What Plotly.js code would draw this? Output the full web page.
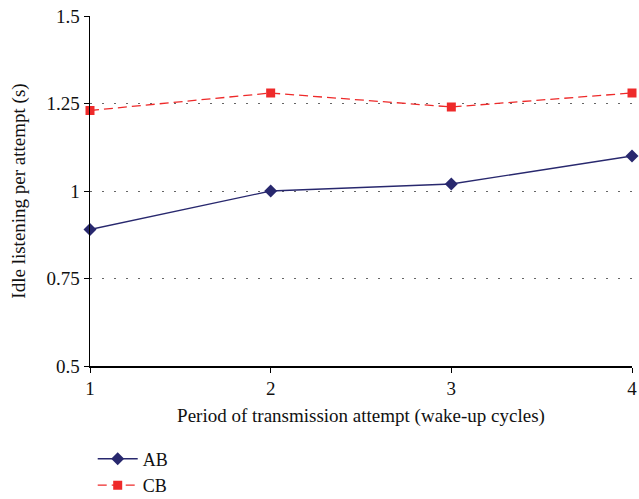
<!DOCTYPE html>
<html>
<head>
<meta charset="utf-8">
<script src="https://cdn.plot.ly/plotly-3.0.1.min.js"></script>
<style>html,body{margin:0;padding:0;background:#fff;}</style>
</head>
<body>
<div id="chart" style="width:639px;height:499px;"></div>
<script>
const periods = [1, 2, 3, 4];
const abValues = [0.89, 1.00, 1.02, 1.10];
const cbValues = [1.23, 1.28, 1.24, 1.28];
const yTicks = [0.5, 0.75, 1, 1.25, 1.5];
const yTickLabels = ['0.5', '0.75', '1', '1.25', '1.5'];

const fontFam = '"Liberation Serif", "DejaVu Serif", serif';

const traces = [
  {
    x: periods, y: abValues, name: 'AB', type: 'scatter', mode: 'lines+markers',
    line: {color: '#28286e', width: 1.3},
    marker: {symbol: 'diamond', size: 10, color: '#28286e'},
    cliponaxis: false
  },
  {
    x: periods, y: cbValues, name: 'CB', type: 'scatter', mode: 'lines+markers',
    line: {color: '#ee2a2a', width: 1.3, dash: '9px,5px'},
    marker: {symbol: 'square', size: 9, color: '#ee2a2a'},
    cliponaxis: false
  }
];

const layout = {
  width: 639, height: 499,
  margin: {l: 90, r: 7, t: 16, b: 133, autoexpand: false},
  paper_bgcolor: '#fff', plot_bgcolor: '#fff',
  font: {family: fontFam, size: 19, color: '#111'},
  showlegend: true,
  legend: {
    x: 0.005, xanchor: 'left', y: -0.213, yanchor: 'top',
    orientation: 'v', font: {family: fontFam, size: 18, color: '#111'},
    bgcolor: 'rgba(0,0,0,0)', tracegroupgap: 0, itemwidth: 40
  },
  xaxis: {
    range: [1, 4], tickvals: periods, ticktext: periods.map(String),
    showgrid: false, zeroline: false,
    showline: true, linecolor: '#000', linewidth: 1.5,
    ticks: 'outside', ticklen: 5, tickcolor: '#000',
    ticklabeloverflow: 'allow',
    tickfont: {family: fontFam, size: 19, color: '#111'},
    title: {text: 'Period of transmission attempt (wake-up cycles)', font: {family: fontFam, size: 19, color: '#111'}, standoff: 10}
  },
  yaxis: {
    range: [0.5, 1.5], tickvals: yTicks, ticktext: yTickLabels,
    showgrid: true, gridcolor: '#666', griddash: '1.5px,10.5px', gridwidth: 1,
    zeroline: false,
    showline: true, linecolor: '#000', linewidth: 1.5,
    ticks: 'outside', ticklen: 5, tickcolor: '#000',
    tickfont: {family: fontFam, size: 19, color: '#111'},
    title: {text: 'Idle listening per attempt (s)', font: {family: fontFam, size: 19, color: '#111'}, standoff: 16}
  }
};

Plotly.newPlot('chart', traces, layout, {displayModeBar: false, staticPlot: true});
</script>
</body>
</html>
